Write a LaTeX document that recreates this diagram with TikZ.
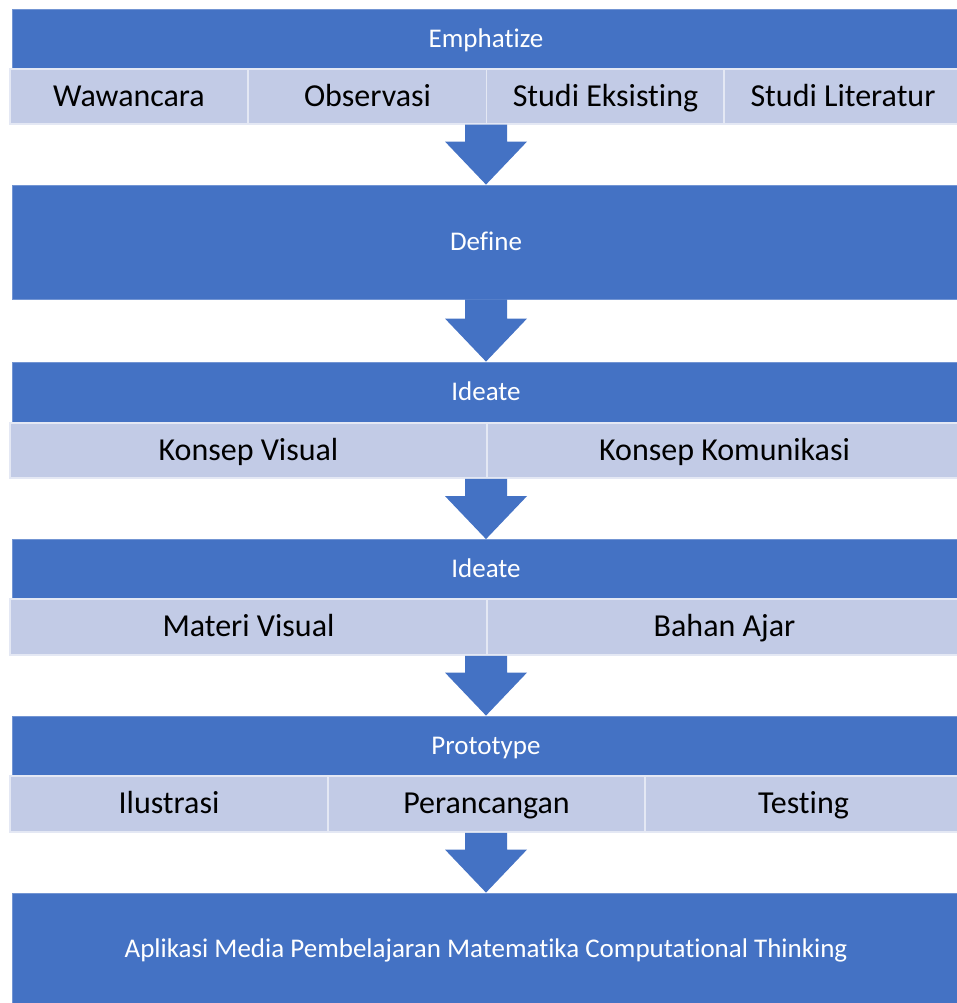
\documentclass[tikz,border=0pt]{standalone}
\usepackage{fontspec}
\setmainfont{Carlito}[Ligatures=NoCommon]
\usetikzlibrary{calc}

\definecolor{boxblue}{RGB}{68,114,196}
\definecolor{cellblue}{RGB}{194,203,230}

% block arrow from the bottom of one stage to the top of the next
\newcommand{\stagearrow}[2]{%
  \fill[boxblue] ($(#1)+(-21,0)$) -- ($(#1)+(21,0)$) -- ($(#2)+(21,-43)$)
    -- ($(#2)+(41,-43)$) -- (#2) -- ($(#2)+(-41,-43)$) -- ($(#2)+(-21,-43)$) -- cycle;}

\begin{document}
\begin{tikzpicture}[x=1pt,y=-1pt,
  hdr/.style={rectangle, fill=boxblue, draw=white!25!boxblue, line width=.8pt,
    inner sep=0pt, minimum width=948pt, text=white, font=\fontsize{27}{31}\selectfont,
    text height=21.6pt, text depth=5.4pt},
  cell/.style={rectangle, fill=cellblue, draw=white!55!cellblue, line width=1.5pt,
    inner sep=0pt, minimum height=55pt, text=black, font=\fontsize{32}{37}\selectfont,
    text height=25.6pt, text depth=6.4pt}]
\useasboundingbox (0,0) rectangle (957,1003);

% Emphatize
\node[hdr, minimum height=60pt] (emph) at (486,39) {Emphatize};
\node[cell, minimum width=238pt] (wawancara) at (129,96.5) {Wawancara};
\node[cell, minimum width=238pt] (observasi) at (367.5,96.5) {Observasi};
\node[cell, minimum width=238pt] (eksisting) at (605.5,96.5) {Studi Eksisting};
\node[cell, minimum width=238pt] (literatur) at (843,96.5) {Studi Literatur};

% Define
\node[hdr, minimum height=114pt] (define) at (486,242) {Define};

% Ideate (konsep)
\node[hdr, minimum height=61pt] (ideateA) at (486,392.5) {Ideate};
\node[cell, minimum width=477pt] (konsepvis) at (248.5,450.5) {Konsep Visual};
\node[cell, minimum width=475pt] (konsepkom) at (724.5,450.5) {Konsep Komunikasi};

% Ideate (materi)
\node[hdr, minimum height=60pt] (ideateB) at (486,569.5) {Ideate};
\node[cell, minimum width=477pt, minimum height=56pt] (materi) at (248.5,627) {Materi Visual};
\node[cell, minimum width=475pt, minimum height=56pt] (bahan) at (724.5,627) {Bahan Ajar};

% Prototype
\node[hdr, minimum height=60pt] (proto) at (486,746) {Prototype};
\node[cell, minimum width=318pt, minimum height=56pt] (ilustrasi) at (169,804) {Ilustrasi};
\node[cell, minimum width=317pt, minimum height=56pt] (rancang) at (486.5,804) {Perancangan};
\node[cell, minimum width=317pt, minimum height=56pt] (testing) at (803.5,804) {Testing};

% Aplikasi
\node[hdr, minimum height=112pt] (aplikasi) at (486,949) {Aplikasi Media Pembelajaran Matematika Computational Thinking};

% Arrows
\stagearrow{emph |- wawancara.south}{define.north}
\stagearrow{define.south}{ideateA.north}
\stagearrow{ideateA |- konsepvis.south}{ideateB.north}
\stagearrow{ideateB |- materi.south}{proto.north}
\stagearrow{proto |- ilustrasi.south}{aplikasi.north}

\end{tikzpicture}
\end{document}
